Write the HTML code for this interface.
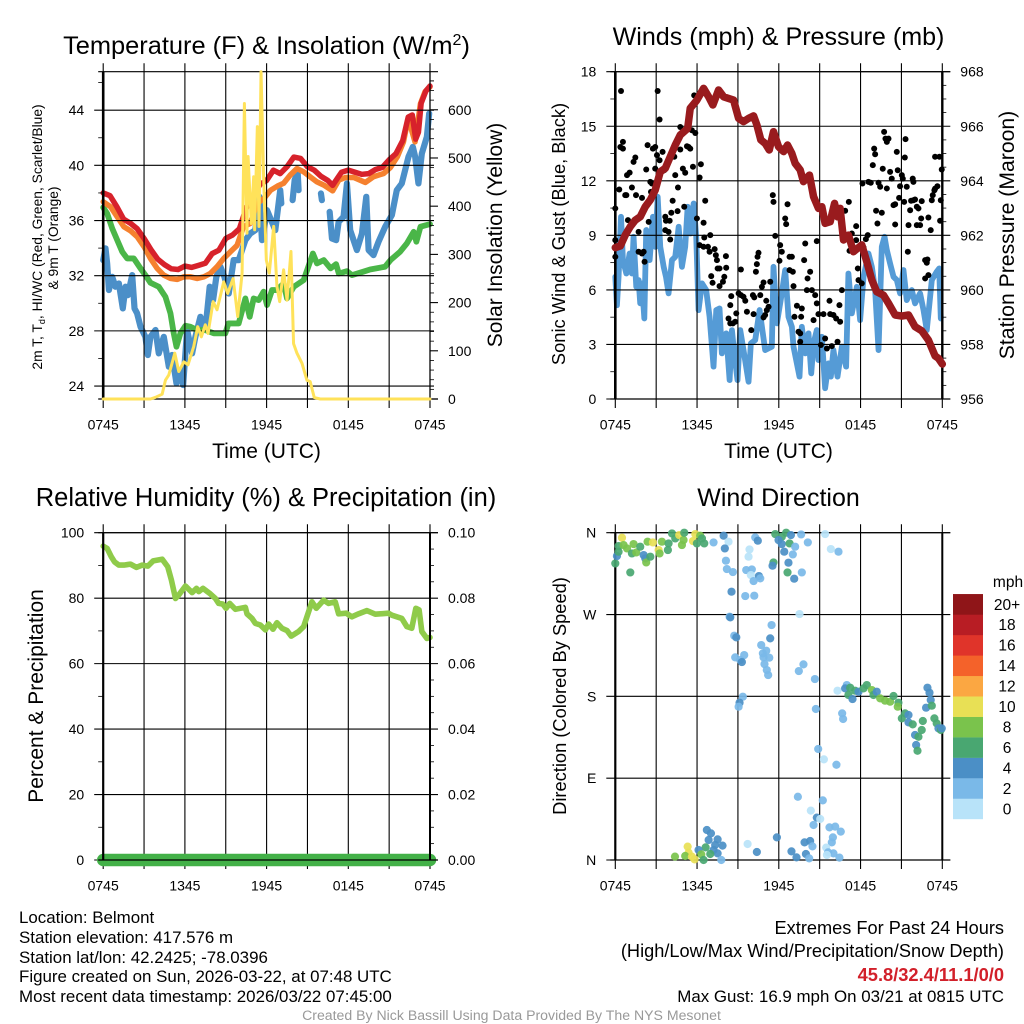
<!DOCTYPE html>
<html lang="en">
<head>
<meta charset="utf-8">
<title>Belmont NYS Mesonet Meteogram</title>
<style>
html,body{margin:0;padding:0;background:#fff;}
svg{display:block;}
text{font-family:"Liberation Sans",sans-serif;fill:#000;}
</style>
</head>
<body>
<svg id="chart" xmlns="http://www.w3.org/2000/svg" width="1024" height="1024" viewBox="0 0 1024 1024">
<rect x="0" y="0" width="1024" height="1024" fill="#fff"/>

<g id="panelTL"></g>
<g id="panelTR"></g>
<g id="panelBL"></g>
<g id="panelBR"></g>
<g id="colorbar"></g>

<text x="266.5" y="54" font-size="25.4" text-anchor="middle">Temperature (F) &amp; Insolation (W/m<tspan dy="-9" font-size="16">2</tspan><tspan dy="9">)</tspan></text>
<text x="778.5" y="45" font-size="25.1" text-anchor="middle">Winds (mph) &amp; Pressure (mb)</text>
<text x="266" y="506" font-size="25.5" text-anchor="middle">Relative Humidity (%) &amp; Precipitation (in)</text>
<text x="778.5" y="506" font-size="25" text-anchor="middle">Wind Direction</text>

<text x="266.5" y="458" font-size="21" text-anchor="middle">Time (UTC)</text>
<text x="778.5" y="458" font-size="21" text-anchor="middle">Time (UTC)</text>

<text transform="translate(42,237) rotate(-90)" font-size="13.8" text-anchor="middle">2m T, T<tspan dy="3" font-size="9">d</tspan><tspan dy="-3">, HI/WC (Red, Green, Scarlet/Blue)</tspan></text>
<text transform="translate(58,238) rotate(-90)" font-size="13.8" text-anchor="middle">&amp; 9m T (Orange)</text>
<text transform="translate(502,235) rotate(-90)" font-size="21" text-anchor="middle">Solar Insolation (Yellow)</text>
<text transform="translate(565,234) rotate(-90)" font-size="18.3" text-anchor="middle">Sonic Wind &amp; Gust (Blue, Black)</text>
<text transform="translate(1014,235) rotate(-90)" font-size="21.2" text-anchor="middle">Station Pressure (Maroon)</text>
<text transform="translate(43,696) rotate(-90)" font-size="21" text-anchor="middle">Percent &amp; Precipitation</text>
<text transform="translate(566,696) rotate(-90)" font-size="18.3" text-anchor="middle">Direction (Colored By Speed)</text>

<text x="19" y="923" font-size="16.9">Location: Belmont</text>
<text x="19" y="943" font-size="16.9">Station elevation: 417.576 m</text>
<text x="19" y="963" font-size="16.9">Station lat/lon: 42.2425; -78.0396</text>
<text x="19" y="982" font-size="16.9">Figure created on Sun, 2026-03-22, at 07:48 UTC</text>
<text x="19" y="1002" font-size="16.9">Most recent data timestamp: 2026/03/22 07:45:00</text>

<text x="1004" y="934" font-size="18.2" text-anchor="end">Extremes For Past 24 Hours</text>
<text x="1004" y="957" font-size="18.2" text-anchor="end">(High/Low/Max Wind/Precipitation/Snow Depth)</text>
<text x="1004" y="981" font-size="18.3" font-weight="bold" text-anchor="end" style="fill:#d2202a">45.8/32.4/11.1/0/0</text>
<text x="1004" y="1002" font-size="16.9" text-anchor="end">Max Gust: 16.9 mph On 03/21 at 0815 UTC</text>
<text x="511.5" y="1020" font-size="14.1" text-anchor="middle" style="fill:#999">Created By Nick Bassill Using Data Provided By The NYS Mesonet</text>
</svg>

<script>
// ---------- tick labels and axis values ----------
var timeLabels = ['0745', '1345', '1945', '0145', '0745'];
var timeTicks = [0, 3, 6, 9, 12, 15, 18, 21, 24];
var tempTicks = [24, 28, 32, 36, 40, 44];
var tempMinor = [26, 30, 34, 38, 42, 46];
var solarTicks = [0, 100, 200, 300, 400, 500, 600];
var windTicks = [0, 3, 6, 9, 12, 15, 18];
var pressureTicks = [956, 958, 960, 962, 964, 966, 968];
var rhTicks = [0, 20, 40, 60, 80, 100];
var precipTicks = ['0.00', '0.02', '0.04', '0.06', '0.08', '0.10'];
var dirTicks = [0, 90, 180, 270, 360];
var dirLabels = ['N', 'E', 'S', 'W', 'N'];
var speedLabels = ['0', '2', '4', '6', '8', '10', '12', '14', '16', '18', '20+'];

// ---------- top-left: temperature series (hours since 0745, deg F) ----------
var redT = [0,.5,1,1.5,2,2.5,3,3.5,4,4.5,5,5.5,6,6.5,7,7.5,8,8.5,9,9.5,10,10.5,11,11.5,12,12.5,13,13.5,14,14.5,15,15.5,16,16.5,16.85,17.5,18,18.5,19,19.5,20,20.5,21,21.5,22,22.4,22.7,22.95,23.15,23.35,23.7,24];
var redV = [38.0,37.8,37.0,36.1,35.8,35.4,34.7,33.9,33.2,32.8,32.5,32.45,32.7,32.6,32.75,32.9,33.6,33.85,34.7,34.95,35.4,36.9,37.7,38.6,38.9,39.65,39.4,39.9,40.6,40.5,39.9,39.65,39.2,38.9,38.55,39.5,39.65,39.5,39.35,39.4,39.7,39.85,40.4,40.85,41.8,43.5,43.65,41.9,42.4,44.5,45.4,45.75];
var orangeT = [0,.54,1.03,1.52,2,2.5,3,3.47,3.96,4.45,4.94,5.43,5.92,6.41,6.9,7.4,7.87,8.36,8.85,9.34,9.83,10.3,10.8,11.3,11.8,12.3,12.8,13.25,13.74,14.23,14.72,15.2,15.7,16.2,16.85,17.3,17.8,18.4,19.25,19.85,20.6,21.1,21.6,22.05,22.4,22.9,23.3,23.63,24];
var orangeV = [37.36,37,36.27,35.55,35.26,34.82,34.1,33.25,32.53,32.04,31.8,31.73,31.92,31.92,31.8,31.92,32.16,32.65,33.25,33.73,34.2,35.55,35.79,37.24,37.6,38.2,38.5,38.7,39.3,39.77,39.53,39.17,38.8,38.57,38.15,38.93,39.12,39.12,38.76,39.17,39.41,39.85,40.62,41.7,43.4,41.7,44.48,45.33,45.69];
var greenT = [0,.29,.66,1.03,1.4,1.76,2.25,2.74,3.1,3.47,4.08,4.57,4.94,5.18,5.38,5.67,6.04,6.4,6.9,7.5,8.12,8.97,9.2,9.95,10.44,10.76,11.05,11.42,11.78,12.03,12.4,12.76,13.25,13.5,14,14.72,15.4,15.7,16.2,16.7,17.1,17.3,17.9,18.27,19.1,19.6,20.7,21.1,21.8,22.3,22.8,23,23.3,24];
var greenV = [36.95,36.51,35.43,34.58,33.73,33.25,33.25,32.53,32.04,31.49,31.2,30.47,29.27,27.82,26.85,27.82,28.37,28.3,28.06,28.06,27.82,27.82,28.54,28.54,30.35,29.02,30.35,30.23,30.84,29.87,30.96,30.96,31.44,30.35,31.2,31.68,33.61,32.89,33.13,32.53,32.84,32.16,32.33,32.04,32.29,32.45,32.65,33.13,33.73,34.34,35.18,34.46,35.55,35.74];
var blueT = [0,.17,.29,.42,.66,.9,1.15,1.44,1.64,1.81,2.13,2.3,2.49,2.74,3.1,3.28,3.47,3.84,4.08,4.45,4.82,5.06,5.38,5.67,5.87,6.16,6.53,6.77,7.14,7.5,7.82,8.07,8.31,8.61,8.9,9.22,9.58,9.95,10.44,10.8,11.17,11.47,11.66,12.03,12.64,13,13.08,13.5,13.91,14.06,14.28,14.35,15,15.99,16.06,16.3,16.63,16.8,17.11,17.29,17.65,17.9,18.14,18.63,19,19.32,19.49,19.85,20.22,20.71,21.2,21.56,21.93,22.42,22.74,22.91,23.15,23.4,23.77,23.94];
var blueV = [33.13,33.98,32.89,30.96,31.92,31.2,31.44,29.63,31.2,30.59,32.04,29.63,29.27,28.3,27.57,26.25,27.57,28.06,26.37,27.57,25.4,26.25,24.19,25.04,24.07,28.06,26.37,27.57,29.02,28.06,31.2,30.23,31.92,32.65,31.92,30.71,33.13,33.13,34.58,35.06,35.3,37.72,34.58,36.75,35.3,38.2,37.24,null,37.48,38.93,39.53,38.2,null,37.96,37.48,null,36.63,34.7,34.58,35.9,36.27,38.69,35.3,33.86,35.06,37.72,33.86,33.49,34.46,35.55,36.39,38.2,38.69,40.62,41.34,40.62,38.69,40.86,42.07,43.76];
var solarT = [0,3.47,3.84,4.33,4.57,4.82,5.26,5.55,5.92,6.23,6.65,6.94,7.21,7.5,7.7,8.07,8.36,8.85,9.14,9.54,9.88,10.2,10.37,10.56,10.64,10.88,11.05,11.12,11.32,11.44,11.59,11.78,11.98,12.2,12.52,12.76,12.96,13.25,13.5,13.79,13.98,14.23,14.6,14.96,15.2,15.5,15.94,24];
var solarV = [0,0,3.5,10,39,50,95,57,77,71,109,150,129,154,136,202,185,243,219,250,171,261,613,344,503,364,461,351,565,358,679,461,288,261,358,233,202,268,205,306,115,95,74,39,36,3,0,0];

// ---------- top-right: wind, gust and pressure ----------
var pressureT = [0,.37,.73,1.1,1.47,1.83,2.2,2.57,2.93,3.3,3.67,4.03,4.4,4.77,5.31,5.5,5.99,6.48,6.85,7.16,7.58,7.95,8.31,8.68,9.05,9.41,9.78,10.15,10.39,10.68,11,11.3,11.61,11.98,12.35,12.64,12.96,13.2,13.57,13.81,14.25,14.55,14.91,15.16,15.4,15.77,16.09,16.31,16.5,16.75,17.11,17.48,18.09,18.46,18.83,19.19,19.68,20.05,20.54,21.03,21.52,22,22.49,22.98,23.47,23.72,24];
var pressureV = [961.55,961.61,962.01,962.32,962.56,962.68,963.05,963.3,963.66,964.33,964.46,964.88,965.31,965.68,965.92,966.66,966.96,967.39,967.08,966.78,967.33,967.08,967.02,966.96,966.29,966.17,966.29,966.38,966.05,965.5,965.37,965.13,965.8,965.25,965.07,965.31,965,964.64,964.4,963.97,964.21,963.42,962.99,963.05,962.44,962.5,963.17,962.68,962.99,961.83,962.01,961.4,961.65,961.03,960.36,959.93,959.81,959.51,959.08,959.04,959.08,958.65,958.5,958.16,957.58,957.49,957.28];
var sonicT = [0,.12,.24,.42,.56,.81,1.05,1.22,1.34,1.54,1.71,1.83,1.96,2.13,2.27,2.52,2.76,2.93,3.11,3.3,3.55,3.72,3.91,4.16,4.4,4.65,4.89,5.13,5.31,5.5,5.75,5.94,6.11,6.36,6.67,6.92,7.21,7.41,7.65,7.82,8.14,8.39,8.56,8.73,8.97,9.17,9.41,9.78,9.95,10.27,10.59,11,11.49,11.61,11.86,12.22,12.47,12.71,12.96,13.08,13.52,13.69,13.94,14.18,14.38,14.55,14.79,14.91,15.16,15.4,15.65,15.82,16.01,16.31,16.63,16.94,17.11,17.36,17.73,17.97,18.22,18.58,18.83,19.07,19.32,19.56,19.76,19.93,20.17,20.42,20.66,20.9,21.15,21.39,21.76,22,22.37,22.62,22.86,23.23,23.59,23.77,23.89];
var sonicV = [6.72,5.16,6.72,10.02,7.64,6.9,8,6.9,8.92,6.17,6.54,5.26,6.36,4.43,9.29,7.64,10.02,8.37,11.12,8.37,7.27,6.72,5.81,7.64,7.82,9.47,7.27,8.37,10.57,9.1,10.75,8.92,4.89,6.36,5.99,4.52,1.78,4.89,4.98,2.51,3.61,1.04,3.79,2.51,1.04,3.79,2.69,.95,3.06,3.24,4.89,2.69,2.88,7.27,4.16,5.81,7.09,4.52,3.97,2.88,1.23,3.97,2.51,3.61,1.41,3.06,3.79,2.14,3.42,.59,1.96,1.23,2.69,1.23,2.88,1.78,6.9,4.71,6.17,4.34,6.72,8,7.27,5.99,2.69,8.37,8.92,8.19,7.45,6.72,6.54,5.81,7.09,5.44,5.99,5.26,5.81,4.89,3.79,6.54,7,7.18,4.43];
var gustT = [0,0,0,.29,.42,.37,.56,.56,.73,.81,.86,1.05,.93,1.22,1.34,1.47,1.52,1.96,1.71,1.71,1.96,2.08,2.15,2.37,2.27,2.45,2.57,2.69,2.62,2.76,2.93,2.93,3.06,3.11,3.25,3.25,3.47,3.37,3.59,3.67,3.72,3.99,3.67,3.91,4.03,4.11,4.21,4.33,4.4,4.57,4.6,4.77,4.77,4.96,5.13,5.06,5.26,5.38,5.5,5.62,5.87,5.79,5.7,6.28,6.19,5.99,6.48,6.6,6.19,6.48,6.53,6.97,6.8,6.92,7.29,7.38,7.46,7.51,7.65,8.12,8.14,8,7.04,7.14,7.65,7.9,8.51,8.44,8.88,8.31,8.44,8.63,8.8,9.05,9.22,9.41,9.22,9.54,9.66,9.98,10.1,10.2,10.64,10.15,10.51,10.44,10.39,10.32,10.88,10.76,11.37,11.08,11.25,11.12,11,10.88,11.56,11.61,11.74,12.1,12.22,12.05,12.47,12.54,12.64,12.79,12.96,12.79,13.03,13.94,13.86,13.08,13.33,13.15,13.69,13.64,13.45,13.57,13.57,14.06,14.11,14.3,14.43,14.55,14.67,14.79,14.79,14.91,15.28,15.09,15.4,15.53,15.72,15.77,15.89,16.01,16.21,16.45,16.31,16.5,16.63,16.87,17.14,17.19,17.36,17.68,17.68,17.8,17.85,18.09,18.22,18.39,18.53,18.14,18.58,18.75,18.9,19,19.07,19.14,19.24,19.56,19.32,19.44,19.63,19.73,19.83,19.93,20.05,19.93,20.17,20.29,20.54,20.42,20.54,20.66,20.73,20.83,20.9,21.03,21.1,21.2,21.25,21.3,21.52,21.64,21.71,21.88,22,22.13,22.25,22.49,22.13,22.37,22.45,22.98,21.83,21.88,21.39,21.47,22.74,22.91,22.86,22.74,22.98,23.15,23.23,23.3,23.42,23.47,23.64,23.47,23.79,23.96,23.89,23.84];
var gustV = [10.48,8.74,7.82,11.52,16.94,13.86,14.14,13.77,11.21,11.21,12.31,12.45,9.84,11.63,13.04,13.28,11.21,11.06,9.19,8.1,8,8.1,7.55,13.96,12.62,9.74,11.94,11.85,11.39,13.77,13.86,12.67,13.41,16.94,15.37,13.13,13.59,12.58,12.58,10.02,9.8,9.8,9.29,9.19,8.77,10.24,10.9,13.32,12.31,10.33,11.63,14.96,13.72,12.67,12.44,10.57,13.9,13.86,13.77,14.78,14.63,16.7,12.77,12.91,12.18,9.93,9.69,10.9,8.46,8.37,8.88,9.01,8.37,8.1,8.24,7.91,7.64,7.18,7.18,7.86,7.22,6.72,6.76,6.39,6.21,6.45,5.66,5.16,4.71,4.43,4.16,4.16,4.25,5.81,5.71,5.62,7.12,5.4,4.8,3.79,5.71,5.59,5.71,4.67,8.04,7.82,7.42,7,6.41,6.17,6.45,5.4,5.07,4.89,4.62,4.49,11.21,10.84,8.97,8.46,8.1,7.6,9.93,9.62,10.71,7.82,7.82,7.09,7,8.55,7.64,6.21,5.13,4.52,4.98,4.52,3.7,3.61,3.15,5.99,6.63,7,5.99,4.34,5.71,5.26,8.68,4.67,4.67,2.97,3.33,2.78,5.4,4.67,2.91,4.62,4.43,5.16,3.15,4.25,5.99,10.35,10.84,8.15,9.1,9.51,8.74,7.18,6.54,6.36,8.33,8.79,9.01,11.85,11.94,11.89,12.86,13.77,13.46,10.35,9.65,10.24,11.89,11.67,12.66,14.69,14.32,14.14,14.32,11.58,12.49,12.12,10.71,10.66,9.6,13.59,12.58,11.06,11.7,12.31,12.12,10.84,13.28,14.29,9.56,10.38,10.9,10.93,10.97,10.57,10.48,10.88,9.56,9.56,9.93,9.98,12.12,11.94,11.67,8.1,7.64,7.67,7.49,6.63,6.81,9.29,10.93,11.21,11.48,11.57,11.7,13.32,13.32,12.62,10.93,9.8];

// ---------- bottom-left: humidity and precipitation ----------
var rhT = [0,.29,.59,.83,1.15,1.52,2,2.44,2.86,3.28,3.67,4.33,4.74,5.01,5.31,5.55,6.04,6.53,6.85,7.02,7.33,7.87,8.24,8.48,8.78,9.02,9.29,9.71,10.07,10.44,10.56,10.93,11.17,11.54,11.91,12.15,12.47,12.76,13.13,13.5,13.81,14.35,14.72,14.96,15.33,15.65,16.19,16.55,17.04,17.29,17.85,18.26,18.75,19.36,19.98,20.95,21.2,21.93,22.3,22.66,22.96,23.2,23.4,23.77,24];
var rhV = [95.9,95.2,92.7,91.1,90.1,90.1,90.4,89.4,90.1,89.8,91.4,91.9,89.6,85.5,79.9,81,83.7,81.7,83,82,83,81.3,79.9,78.4,78.2,76.9,78.4,76.6,76.9,77.2,75.2,73.8,72.3,71.8,70.3,72.1,70.5,72.5,70.8,70.1,68.4,69.8,71.3,74.3,78.9,76.9,79.4,78.4,78.9,75.2,75.4,74.3,75.2,76.2,75.1,75.4,74.8,73.8,71.3,70.8,76.9,76.4,69.8,67.7,68];
var precipT = [0, 24];
var precipV = [0, 0];

// ---------- bottom-right: wind direction coloured by speed ----------
var dirT = [0,.12,.24,.49,.24,.61,.86,1.22,1.1,1.34,1.54,1.83,2.08,2.2,2.27,2.57,2.37,2.76,3.18,3.25,3.42,3.86,3.91,4.16,4.4,4.69,4.89,5.01,5.06,5.87,5.7,5.99,6.23,6.36,6.53,7.21,7.95,8.31,8.04,8.12,8.19,8.63,8.53,8.39,8.44,8.73,8.88,8.8,9.46,9.17,9.29,9.36,9.12,9.05,9.85,9.78,9.61,10.02,9.95,10.54,10.64,10.15,9.54,10.2,10.27,10.46,11.74,12.22,12.54,12.89,11.98,12.22,12.79,13.2,12.4,13.03,12.71,11.61,11.54,12.64,13.69,13.13,13.64,14.13,15.4,15.82,16.38,13.52,11.47,11.37,10.71,11.08,10.83,10.88,11.3,10.95,11.12,11.22,13.81,13.47,14.65,16.31,16.99,16.87,17.24,17.11,17.41,17.6,17.85,18.22,18.46,18.83,18.95,19.19,19.44,19.8,20.17,20.42,20.78,20.73,21.27,21.03,21.52,21.52,21.83,22,22.49,22.25,22.08,22.18,22.57,22.91,23.06,23.15,22.81,23.23,23.42,23.59,23.72,23.89,23.96,14.72,16.65,16.72,14.89,15.31,16.23,13.4,15.23,14.35,14.79,15.04,14.55,15.72,16.14,16.55,15.97,15.89,15.48,15.62,16.01,15.53,16.45,11.86,9.71,10.39,12.93,13.3,13.89,14.3,14.47,13.99,14.23,6.72,7.02,6.85,7.51,7.33,7.87,7.21,7.51,7.78,6.63,6.97,6.11,5.31,5.38,5.13,4.38,6.31,5.62,5.82,6.48];
var dirV = [326.2,334.3,339.1,354.5,345.3,346.4,342.7,337.2,316.3,347.5,338.3,344.6,335.4,331.7,327.3,333.6,350.1,349.3,340.9,337.2,350.1,340.9,348.2,359.2,353.7,357.4,346.4,351.9,360,358.5,350.8,348.2,356.7,353.7,348.2,349.3,356.7,350.1,342.7,329.2,320,316.7,295.1,267.6,266.9,246.7,244.9,222.9,225.4,219.9,217.7,179.6,173,168.6,341.6,333.6,318.9,319.6,313.4,312.3,309.8,306.8,290.3,290.7,354.8,351.2,358.5,355.6,360,357.4,351.9,347.5,348.2,344.6,339.1,336.1,327,327.3,323.7,316.3,316.3,309.4,358.1,349.3,358.5,342,339.1,270.5,258.4,243.8,236.4,230.2,227.3,222.9,222.5,215.5,208.9,203.4,215.2,207.8,199,186.2,192.4,188.8,189.5,181.5,177,186.2,185.1,188.8,192.4,186.9,181.5,185.1,177.8,175.2,174.1,180.4,173,168.6,161.3,155.8,159.5,151.4,149.2,137.5,143,135.6,126.5,120.2,152.9,189.5,184,176,167.5,169.7,155.8,150.3,144.8,143,144.8,166.1,161.3,155.1,122.1,110.7,104.8,69.6,65.6,54.3,46.6,45.1,38.5,35.9,36.7,31.2,24.9,19.4,13.6,8.4,7.3,5.5,2.6,24.9,17.6,8.8,9.5,2.9,19.4,20.9,15,6.6,1.8,33,29.3,22,22.7,16.5,15.8,11,7.3,0,13.9,6.6,11,14.7,8.1,4.4,3.7,6.2,3.7,.7,0];
var dirSpeed = [7,5,7,11,7,9,9,7,7,9,9,7,5,5,9,7,9,11,11,9,9,7,7,7,7,11,9,9,7,11,11,7,9,7,7,3,5,1,5,3,3,3,5,3,5,3,5,3,3,3,5,3,5,3,1,1,3,3,1,5,3,3,3,3,3,5,7,7,7,5,5,5,7,3,5,3,5,7,5,7,3,5,3,3,1,1,3,1,3,5,3,3,3,3,3,3,3,3,3,3,3,1,3,5,7,7,5,7,5,7,7,9,7,5,9,9,9,7,7,9,7,7,5,5,7,5,7,7,5,7,7,5,5,5,5,7,7,7,5,7,5,3,3,3,3,1,3,3,3,1,5,1,3,3,3,3,3,3,1,3,3,1,3,5,1,5,5,5,5,5,3,5,3,5,5,5,5,5,5,5,5,3,7,7,5,11,11,9,9,9,11,11,7];

// ---------- drawing ----------
var SVGNS = 'http://www.w3.org/2000/svg';
var speedColors = ['#b8e3f9','#7ab9e8','#4b8fc6','#49a771','#7ac34c','#e8e055','#fba742','#f4622a','#e0342a','#b81d24','#8f1518'];

function make(tag, attrs, parent) {
  var el = document.createElementNS(SVGNS, tag);
  for (var k in attrs) { el.setAttribute(k, attrs[k]); }
  parent.appendChild(el);
  return el;
}
function scale(d0, d1, r0, r1) {
  return function (v) { return r0 + (v - d0) * (r1 - r0) / (d1 - d0); };
}
function seriesPath(ts, vs, xf, yf) {
  var d = '', pen = false;
  for (var i = 0; i < vs.length; i++) {
    if (vs[i] === null) { pen = false; continue; }
    d += (pen ? 'L' : 'M') + xf(ts[i]).toFixed(2) + ' ' + yf(vs[i]).toFixed(2);
    pen = true;
  }
  return d;
}
function drawSeries(parent, ts, vs, xf, yf, color, width, name) {
  var p = make('path', {d: seriesPath(ts, vs, xf, yf), fill: 'none', stroke: color, 'stroke-width': width, 'stroke-linejoin': 'round', 'stroke-linecap': 'round'}, parent);
  
  
  return p;
}
function tickLine(parent, x1, y1, x2, y2, width, name) {
  var l = make('line', {x1: x1, y1: y1, x2: x2, y2: y2, stroke: '#000', 'stroke-width': width}, parent);
  
  
  return l;
}
function label(parent, x, y, str, anchor, name) {
  var t = make('text', {x: x, y: y, 'font-size': 14, 'text-anchor': anchor}, parent);
  t.textContent = str;
  
  
  return t;
}
// vertical grid, time ticks and labels
function timeAxis(parent, xf, top, bottom) {
  for (var i = 0; i < timeTicks.length; i++) {
    tickLine(parent, xf(timeTicks[i]), top - 8.5, xf(timeTicks[i]), bottom + 9, 1.1, 'time-gridline');
    if (i % 2 === 0) { label(parent, xf(timeTicks[i]), bottom + 30.5, timeLabels[i / 2], 'middle', 'time-tick-label'); }
  }
}
// outer spines
function spines(parent, left, right, top, bottom, leftW, rightW) {
  tickLine(parent, left, top, left, bottom + 0.5, leftW, 'left-spine');
  tickLine(parent, right, top, right, bottom + 0.5, rightW, 'right-spine');
  tickLine(parent, left - 5, top, right + 8, top, 1.2, 'top-spine');
  tickLine(parent, left - 5, bottom, right + 8, bottom, 1.2, 'bottom-spine');
}

// ---- temperature panel ----
(function () {
  var g = document.getElementById('panelTL');
  var L = 103.2, R = 430, T = 71.7, B = 399;
  var xf = scale(0, 24, L, R), yf = scale(23.06, 46.79, B, T), y2 = scale(0, 679, B, T);
  drawSeries(g, blueT, blueV, xf, yf, '#4b8fc8', 6.2, 'scarlet-blue-heat-index-line');
  drawSeries(g, greenT, greenV, xf, yf, '#4ab648', 5.8, 'dewpoint-line');
  drawSeries(g, orangeT, orangeV, xf, yf, '#f5812f', 5.5, 'nine-meter-temperature-line');
  drawSeries(g, redT, redV, xf, yf, '#d7222b', 5.5, 'two-meter-temperature-line');
  timeAxis(g, xf, T, B);
  tempTicks.forEach(function (v) {
    tickLine(g, L - 9, yf(v), R + 4, yf(v), 1.1, 'temperature-gridline');
    label(g, L - 19, yf(v) + 5, String(v), 'end', 'temperature-tick-label');
  });
  tempMinor.forEach(function (v) { tickLine(g, L - 5, yf(v), L, yf(v), 0.8, 'temperature-minor-tick'); });
  solarTicks.forEach(function (v) {
    tickLine(g, R, y2(v), R + 8, y2(v), 1.1, 'solar-tick');
    label(g, R + 18, y2(v) + 5, String(v), 'start', 'solar-tick-label');
    for (var m = 20; m < 100; m += 20) { if (v + m < 679) { tickLine(g, R, y2(v + m), R + 4, y2(v + m), 0.8, 'solar-minor-tick'); } }
  });
  tickLine(g, R, y2(660), R + 4, y2(660), 0.8, 'solar-minor-tick');
  spines(g, L, R, T, B, 2.6, 1.2);
  drawSeries(g, solarT, solarV, xf, y2, '#ffe25a', 3, 'solar-insolation-line');
})();

// ---- winds panel ----
(function () {
  var g = document.getElementById('panelTR');
  var L = 615.3, R = 942.3, T = 71.7, B = 399;
  var xf = scale(0, 24, L, R), yf = scale(0, 18, B, T), y2 = scale(956, 968, B, T);
  drawSeries(g, sonicT, sonicV, xf, yf, '#559bd6', 5.8, 'sonic-wind-line');
  for (var i = 0; i < gustV.length; i++) {
    var c = make('circle', {cx: xf(gustT[i]).toFixed(2), cy: yf(gustV[i]).toFixed(2), r: 3, fill: '#000'}, g);
    
    
  }
  timeAxis(g, xf, T, B);
  windTicks.forEach(function (v) {
    tickLine(g, L - 9, yf(v), R + 8, yf(v), 1.1, 'wind-gridline');
    label(g, L - 19, yf(v) + 5, String(v), 'end', 'wind-tick-label');
    if (v < 18) { tickLine(g, L - 5, yf(v + 1.5), L, yf(v + 1.5), 0.8, 'wind-minor-tick'); }
  });
  pressureTicks.forEach(function (v) {
    label(g, R + 18, y2(v) + 5, String(v), 'start', 'pressure-tick-label');
    if (v < 968) {
      [0.5, 1, 1.5].forEach(function (m) { tickLine(g, R, y2(v + m), R + 4, y2(v + m), 0.8, 'pressure-minor-tick'); });
    }
  });
  spines(g, L, R, T, B, 2.6, 2.4);
  drawSeries(g, pressureT, pressureV, xf, y2, '#991b1e', 7.5, 'station-pressure-line');
})();

// ---- humidity panel ----
(function () {
  var g = document.getElementById('panelBL');
  var L = 103.2, R = 430, T = 532.7, B = 860;
  var xf = scale(0, 24, L, R), yf = scale(0, 100, B, T), y2 = scale(0, 0.1, B, T);
  timeAxis(g, xf, T, B);
  rhTicks.forEach(function (v, i) {
    tickLine(g, L - 9, yf(v), R + 8, yf(v), 1.1, 'humidity-gridline');
    label(g, L - 19, yf(v) + 5, String(v), 'end', 'humidity-tick-label');
    label(g, R + 18, yf(v) + 5, precipTicks[i], 'start', 'precipitation-tick-label');
    if (v < 100) {
      tickLine(g, L - 5, yf(v + 10), L, yf(v + 10), 0.8, 'humidity-minor-tick');
      [5, 10, 15].forEach(function (m) { tickLine(g, R, yf(v + m), R + 4, yf(v + m), 0.8, 'precipitation-minor-tick'); });
    }
  });
  drawSeries(g, rhT, rhV, xf, yf, '#8fcb4a', 5.6, 'relative-humidity-line');
  drawSeries(g, precipT, precipV, xf, y2, '#43b148', 12.5, 'precipitation-line');
  spines(g, L, R, T, B, 2.2, 2);
})();

// ---- wind direction panel ----
(function () {
  var g = document.getElementById('panelBR');
  var L = 615.3, R = 942.3, T = 532.7, B = 860;
  var xf = scale(0, 24, L, R), yf = scale(0, 360, B, T);
  timeAxis(g, xf, T, B);
  dirTicks.forEach(function (v, i) {
    tickLine(g, L - 9, yf(v), R + 8, yf(v), 1.1, 'direction-gridline');
    label(g, L - 19, yf(v) + 5, dirLabels[i], 'end', 'direction-tick-label');
  });
  spines(g, L, R, T, B, 2.2, 2);
  for (var i = 0; i < dirV.length; i++) {
    var bin = Math.min(speedColors.length - 1, Math.floor(dirSpeed[i] / 2));
    var c = make('circle', {cx: xf(dirT[i]).toFixed(2), cy: yf(dirV[i]).toFixed(2), r: 4.1, fill: speedColors[bin], 'fill-opacity': 0.92}, g);
    
    
  }
})();

// ---- colour bar ----
(function () {
  var g = document.getElementById('colorbar');
  var X = 953, W = 30, B = 819, H = 20.45;
  for (var i = 0; i < speedLabels.length; i++) {
    var r = make('rect', {x: X, y: (B - (i + 1) * H).toFixed(2), width: W, height: H + 0.2, fill: speedColors[i]}, g);
    
    
    var t = make('text', {x: 1007, y: (B - (i + 0.5) * H + 5.5).toFixed(2), 'font-size': 15.5, 'text-anchor': 'middle'}, g);
    t.textContent = speedLabels[i];
    
    
  }
  var u = make('text', {x: 1008, y: 587, 'font-size': 15.5, 'text-anchor': 'middle'}, g);
  u.textContent = 'mph';
  
  
})();
</script>
</body>
</html>
